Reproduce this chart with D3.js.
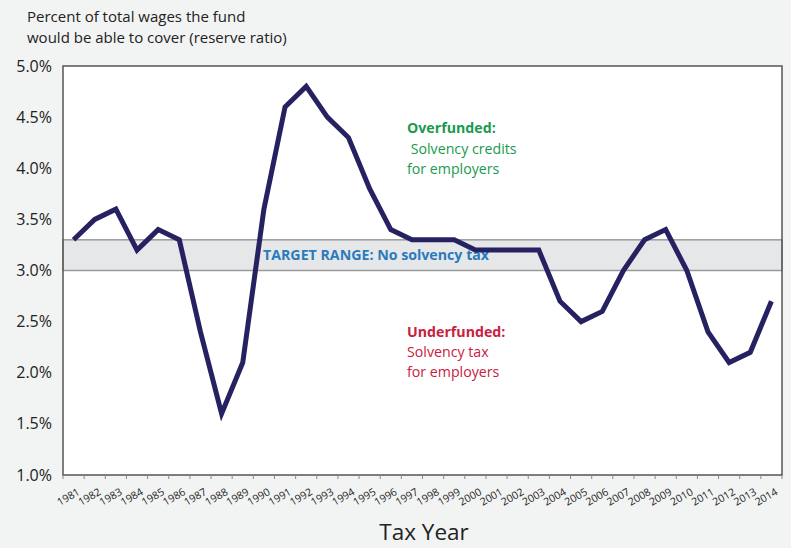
<!DOCTYPE html>
<html>
<head>
<meta charset="utf-8">
<script src="https://cdn.jsdelivr.net/npm/d3@7"></script>
<style>
  html, body { margin: 0; padding: 0; background: #f2f3f3; }
  svg { display: block; font-family: "Open Sans", sans-serif; }
</style>
</head>
<body>
<svg id="chart" width="791" height="548"></svg>
<script>
const years = ["1981","1982","1983","1984","1985","1986","1987","1988","1989","1990",
  "1991","1992","1993","1994","1995","1996","1997","1998","1999","2000",
  "2001","2002","2003","2004","2005","2006","2007","2008","2009","2010",
  "2011","2012","2013","2014"];
const reserveRatio = [3.3, 3.5, 3.6, 3.2, 3.4, 3.3, 2.4, 1.6, 2.1, 3.6,
  4.6, 4.8, 4.5, 4.3, 3.8, 3.4, 3.3, 3.3, 3.3, 3.2,
  3.2, 3.2, 3.2, 2.7, 2.5, 2.6, 3.0, 3.3, 3.4, 3.0,
  2.4, 2.1, 2.2, 2.7];
const yTicks = [1.0, 1.5, 2.0, 2.5, 3.0, 3.5, 4.0, 4.5, 5.0];
const targetRange = [3.0, 3.3];
const titleLines = ["Percent of total wages the fund", "would be able to cover (reserve ratio)"];
const xTitle = "Tax Year";
const bandLabel = "TARGET RANGE: No solvency tax";
const overLines = ["Overfunded:", " Solvency credits", "for employers"];
const underLines = ["Underfunded:", "Solvency tax", "for employers"];

const svg = d3.select("#chart");
const L = 63, R = 782, T = 66, B = 475;

const x = d3.scaleBand().domain(years).range([L, R]).padding(0);
const y = d3.scaleLinear().domain([1.0, 5.0]).range([B, T]);

// plot background
svg.append("rect").attr("x", L).attr("y", T).attr("width", R - L).attr("height", B - T)
  .attr("fill", "#ffffff");

// target band
svg.append("rect")
  .attr("x", L).attr("width", R - L)
  .attr("y", y(targetRange[1])).attr("height", y(targetRange[0]) - y(targetRange[1]))
  .attr("fill", "#e6e7e9").attr("stroke", "#9a9a9a").attr("stroke-width", 1.5);

svg.append("text").attr("x", 263).attr("y", y(3.15) + 5)
  .attr("fill", "#2a7bbd").attr("font-weight", "bold").attr("font-size", 14.2)
  .text(bandLabel);

// line
const line = d3.line().x((d, i) => x(years[i]) + x.bandwidth() / 2).y(d => y(d));
svg.append("path").datum(reserveRatio).attr("d", line)
  .attr("fill", "none").attr("stroke", "#262262").attr("stroke-width", 5)
  .attr("stroke-linejoin", "miter");

// frame
svg.append("rect").attr("x", L).attr("y", T).attr("width", R - L).attr("height", B - T)
  .attr("fill", "none").attr("stroke", "#555").attr("stroke-width", 1.5);

// x ticks
const xAxis = svg.append("g");
const bounds = years.map(yr => x(yr)).concat([R]);
xAxis.selectAll("line").data(bounds).join("line")
  .attr("x1", d => d).attr("x2", d => d).attr("y1", B).attr("y2", B + 4)
  .attr("stroke", "#888").attr("stroke-width", 1);
xAxis.selectAll("text").data(years).join("text")
  .attr("transform", d => `translate(${x(d) + x.bandwidth() / 2 + 7},${B + 19}) rotate(-30)`)
  .attr("text-anchor", "end").attr("font-size", 10.5).attr("fill", "#222")
  .text(d => d);

// y labels
svg.append("g").selectAll("text").data(yTicks).join("text")
  .attr("x", 52).attr("y", d => y(d) + 5.5)
  .attr("text-anchor", "end").attr("font-size", 16).attr("fill", "#222")
  .text(d => d.toFixed(1) + "%");

// title
svg.append("g").selectAll("text").data(titleLines).join("text")
  .attr("x", 27).attr("y", (d, i) => 22 + i * 21)
  .attr("font-size", 15).attr("fill", "#222").text(d => d);

// x title
svg.append("text").attr("x", 424).attr("y", 540).attr("text-anchor", "middle")
  .attr("font-size", 22.5).attr("fill", "#222").text(xTitle);

// annotations
svg.append("g").selectAll("text").data(overLines).join("text")
  .attr("x", 407).attr("y", (d, i) => 133 + i * 20.5)
  .attr("font-size", 14.2).attr("fill", "#1a9a4c")
  .attr("font-weight", (d, i) => i === 0 ? "bold" : "normal")
  .style("white-space", "pre")
  .text(d => d);
svg.append("g").selectAll("text").data(underLines).join("text")
  .attr("x", 407).attr("y", (d, i) => 337 + i * 20)
  .attr("font-size", 14.2).attr("fill", "#c8203e")
  .attr("font-weight", (d, i) => i === 0 ? "bold" : "normal")
  .text(d => d);
</script>
</body>
</html>
